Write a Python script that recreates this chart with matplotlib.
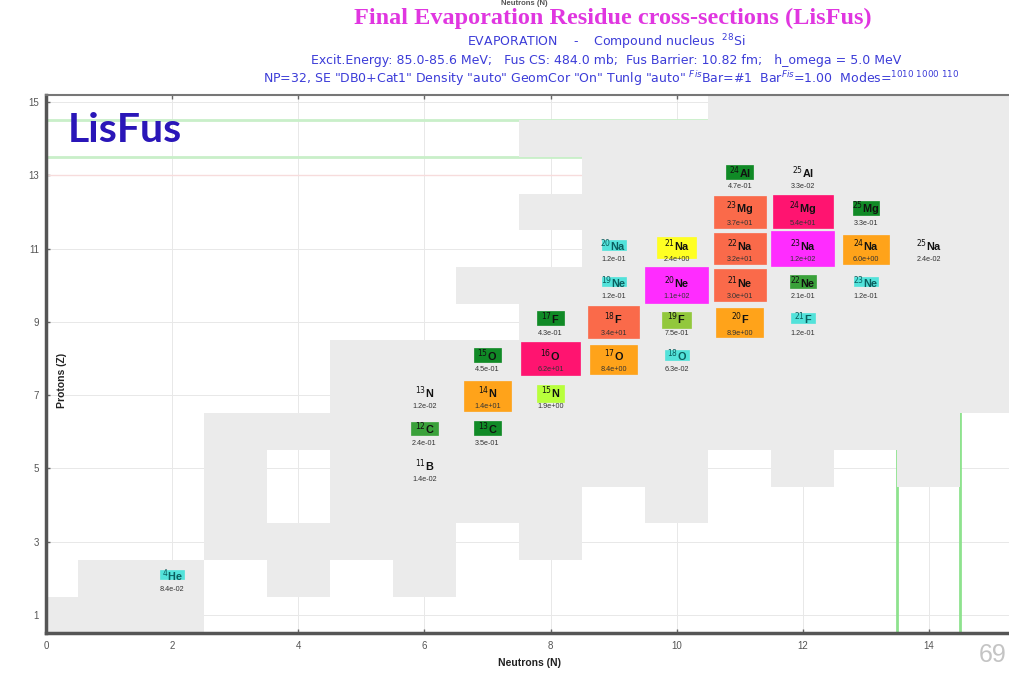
import matplotlib
matplotlib.use('Agg')
import matplotlib.pyplot as plt
from matplotlib.patches import Rectangle

# grey band of the chart (column N, lowest Z, highest Z)
grey_n = [0, 1, 2, 3, 4, 4, 5, 6, 7, 7, 8, 8, 8, 9, 10, 11, 12, 13, 14, 15]
grey_zlo = [1, 1, 1, 3, 2, 6, 3, 2, 4, 10, 3, 12, 14, 5, 4, 6, 5, 6, 5, 7]
grey_zhi = [1, 2, 2, 6, 3, 6, 8, 8, 8, 10, 10, 12, 14, 14, 14, 15, 15, 15, 15, 15]

# residues: neutrons, protons, element, cross-section (mb)
iso_n = [2, 6, 6, 7, 6, 7, 8, 7, 8, 9, 10, 8, 9, 10, 11, 12,
         9, 10, 11, 12, 13, 9, 10, 11, 12, 13, 14, 11, 12, 13, 11, 12]
iso_z = [2, 5, 6, 6, 7, 7, 7, 8, 8, 8, 8, 9, 9, 9, 9, 9,
         10, 10, 10, 10, 10, 11, 11, 11, 11, 11, 11, 12, 12, 12, 13, 13]
iso_el = ['He', 'B', 'C', 'C', 'N', 'N', 'N', 'O', 'O', 'O', 'O', 'F', 'F', 'F', 'F', 'F',
          'Ne', 'Ne', 'Ne', 'Ne', 'Ne', 'Na', 'Na', 'Na', 'Na', 'Na', 'Na', 'Mg', 'Mg', 'Mg', 'Al', 'Al']
iso_xs = [8.4e-02, 1.4e-02, 2.4e-01, 3.5e-01, 1.2e-02, 1.4e+01, 1.9e+00, 4.5e-01,
          6.2e+01, 8.4e+00, 6.3e-02, 4.3e-01, 3.4e+01, 7.5e-01, 8.9e+00, 1.2e-01,
          1.2e-01, 1.1e+02, 3.0e+01, 2.1e-01, 1.2e-01, 1.2e-01, 2.4e+00, 3.2e+01,
          1.2e+02, 6.0e+00, 2.4e-02, 3.7e+01, 5.4e+01, 3.3e-01, 4.7e-01, 3.3e-02]

x_ticks = [0, 2, 4, 6, 8, 10, 12, 14]
y_ticks = [1, 3, 5, 7, 9, 11, 13, 15]
limit_z = [13.5, 14.5]
limit_n = [13.5, 14.5]

# colour classes: lower bound, colour, box width, box height, centre shift
classes = [
    (100, '#ff2cff', 1.00, 0.97, 0.0),
    (50, '#ff1470', 0.95, 0.90, 0.0),
    (20, '#fa6a4a', 0.82, 0.86, 0.0),
    (5, '#ffa31a', 0.74, 0.80, -0.02),
    (2, '#ffff22', 0.62, 0.58, 0.02),
    (1, '#b8ff3c', 0.44, 0.48, 0.04),
    (0.6, '#92c83c', 0.46, 0.44, 0.06),
    (0.3, '#108a26', 0.42, 0.38, 0.10),
    (0.2, '#3aa13a', 0.42, 0.36, 0.10),
    (0.05, '#52e2da', 0.38, 0.26, 0.10),
]


def box_style(v):
    for lo, col, w, h, dz in classes:
        if v >= lo:
            return col, w, h, dz
    return None


plt.rcParams['font.family'] = ['Liberation Sans', 'DejaVu Sans']

fig = plt.figure(figsize=(10.09, 6.73), dpi=100)
ax = fig.add_axes([46 / 1009, 40 / 673, 963 / 1009, 538 / 673])
ax.set_xlim(0, 15.27)
ax.set_ylim(0.51, 15.19)

ax.set_xticks(x_ticks)
ax.set_yticks(y_ticks)
ax.grid(True, color='#e8e8e8', lw=0.7, zorder=0)
ax.set_axisbelow(True)

for z in limit_z:
    ax.axhline(z, color='#c9efc9', lw=2, zorder=1)
ax.axhline(13, color='#f7dcdc', lw=1, zorder=1)
for n in limit_n:
    ax.axvline(n, color='#8ee28e', lw=2, zorder=1)

heights = [hi - lo + 1 for lo, hi in zip(grey_zlo, grey_zhi)]
bottoms = [lo - 0.5 for lo in grey_zlo]
ax.bar(grey_n, heights, bottom=bottoms, width=1.0, color='#ebebeb', lw=0, zorder=2)

for n, z, el, v in zip(iso_n, iso_z, iso_el, iso_xs):
    st = box_style(v)
    txtcol = '#111111'
    if st is not None:
        col, w, h, dz = st
        ax.add_patch(Rectangle((n - w / 2, z + dz - h / 2), w, h, facecolor=col,
                               edgecolor=col, lw=0.5, zorder=3))
        if v < 0.2:
            txtcol = '#0b5e5e'
    ax.text(n, z + 0.08, r'$^{%d}$%s' % (n + z, el), ha='center', va='center',
            fontsize=7.8, fontweight='bold', color=txtcol, zorder=4)
    ax.text(n, z - 0.31, f'{v:.1e}', ha='center', va='center', fontsize=5.2,
            color='#333333', zorder=4)

for side in ['left', 'bottom']:
    ax.spines[side].set_color('#555555')
    ax.spines[side].set_linewidth(2.5)
ax.spines['top'].set_color('#777777')
ax.spines['top'].set_linewidth(1.5)
ax.spines['right'].set_visible(False)
ax.tick_params(direction='in', length=3, width=1, color='#666666', top=True,
               labelsize=7, labelcolor='#555555')
ax.tick_params(axis='x', pad=6)
ax.tick_params(axis='y', pad=5)

ax.text(16 / 963, 0.47, 'Protons (Z)', transform=ax.transAxes, rotation=90,
        ha='center', va='center', fontsize=7.5, fontweight='bold', color='#222222', zorder=5)
fig.text(0.525, 0.0149, 'Neutrons (N)', ha='center', va='center', fontsize=7.5,
         fontweight='bold', color='#222222')
fig.text(0.52, 1.0, 'Neutrons (N)', ha='center', va='top', fontsize=5.5,
         fontweight='bold', color='#555555')

fig.text(0.607, 0.972, 'Final Evaporation Residue cross-sections (LisFus)', ha='center',
         va='center', fontsize=17.5, fontweight='bold', color='#e036e0', family='Liberation Serif')
sub_kw = dict(ha='center', va='center', fontsize=9, color='#3c3cd8', family='DejaVu Sans')
fig.text(0.601, 0.9376, r'EVAPORATION    -    Compound nucleus  $^{28}$Si', **sub_kw)
fig.text(0.601, 0.9108, 'Excit.Energy: 85.0-85.6 MeV;   Fus CS: 484.0 mb;  Fus Barrier: 10.82 fm;   '
         'h_omega = 5.0 MeV', **sub_kw)
fig.text(0.606, 0.8826, r'NP=32, SE "DB0+Cat1" Density "auto" GeomCor "On" Tunlg "auto" '
         r'$^{Fis}$Bar=#1  Bar$^{Fis}$=1.00  Modes=$^{1010\ 1000\ 110}$', **sub_kw)

fig.text(68 / 1009, 1 - 142 / 673, 'LisFus', ha='left', va='baseline', fontsize=29.5,
         fontweight='bold', color='#2a16b8', family='Lato')
fig.text(979 / 1009, 1 - 662 / 673, '69', ha='left', va='baseline', fontsize=18,
         color='#c4c4c4')

fig.savefig('out.png', dpi=100)
